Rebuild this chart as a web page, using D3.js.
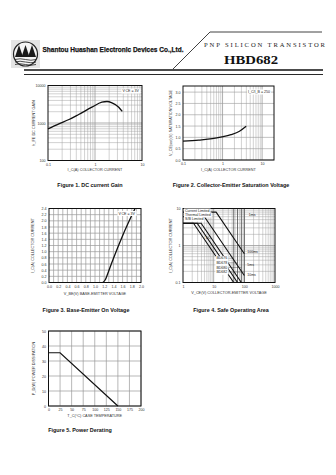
<!DOCTYPE html>
<html><head><meta charset="utf-8">
<script src="https://cdn.jsdelivr.net/npm/d3@7"></script>
<style>body{margin:0;background:#fff}svg{display:block}</style>
</head><body>
<script>
// ---------- DATA ----------
// Figure 1: DC current gain
const fig1Current = [0.1, 0.17, 0.28, 0.45, 0.86, 1.4, 1.8, 2.3, 3.2, 3.8];
const fig1Gain    = [700, 950, 1240, 1690, 2640, 3590, 3740, 3430, 2640, 2030];
const fig1XTicks = [0.1, 1, 10];
const fig1XLabels = ["0.1", "1", "10"];
const fig1YTicks = [100, 1000, 10000];
const fig1YLabels = ["100", "1000", "10000"];
// Figure 2: collector-emitter saturation voltage
const fig2Current = [0.1, 0.25, 0.55, 0.96, 1.63, 2.68, 3.95];
const fig2Vsat    = [0.83, 0.88, 0.94, 1.02, 1.12, 1.27, 1.49];
const fig2XTicks = [0.1, 1, 10];
const fig2XLabels = ["0.1", "1", "10"];
const fig2YTicks = [0, 0.5, 1.0, 1.5, 2.0, 2.5, 3.0];
// Figure 3: base-emitter on voltage
const fig3Vbe = [1.17, 1.22, 1.28, 1.4, 1.6, 1.87];
const fig3Ic  = [0, 0.08, 0.3, 0.78, 1.52, 2.4];
const fig3XTicks = [0, 0.2, 0.4, 0.6, 0.8, 1.0, 1.2, 1.4, 1.6, 1.8, 2.0];
const fig3YTicks = [0, 0.2, 0.4, 0.6, 0.8, 1.0, 1.2, 1.4, 1.6, 1.8, 2.0, 2.2, 2.4];
// Figure 4: safe operating area (V, A)
const soaNames = ["1ms", "100ms", "5ms", "10ms", "DC"];
const soaV = [[1, 12, 100], [1, 5, 100], [1, 3.9, 80], [1, 2.9, 60], [1, 2.2, 45]];
const soaI = [[8, 8, 0.6], [6, 6, 0.155], [4, 4, 0.1], [4, 4, 0.1], [4, 4, 0.1]];
const soaLimitV = [45, 60, 80, 100];
const soaDevices = ["BD676", "BD678", "BD680", "BD682"];
const fig4XTicks = [1, 10, 100, 1000];
const fig4YTicks = [0.1, 1, 10];
// Figure 5: power derating
const fig5Tc = [0, 25, 150];
const fig5Pd = [35.5, 35.5, 0];
const fig5XTicks = [0, 25, 50, 75, 100, 125, 150, 175, 200];
const fig5YTicks = [0, 10, 20, 30, 40, 50];

// ---------- DRAW ----------
const W = 336, H = 475;
const svg = d3.select("body").append("svg").attr("width", W).attr("height", H);
svg.append("rect").attr("width", W).attr("height", H).attr("fill", "#fff");
const FONT = "Liberation Sans, Arial, sans-serif";
const SERIF = "Liberation Serif, Times New Roman, serif";

// Header
const logo = svg.append("g");
logo.append("rect").attr("x", 11).attr("y", 40).attr("width", 29).attr("height", 28).attr("fill", "#e4e4e4");
logo.append("circle").attr("cx", 25.5).attr("cy", 54).attr("r", 12).attr("fill", "#f4f4f4").attr("stroke", "#222").attr("stroke-width", 1.2);
[0, 1, 2].forEach(i => {
  const cx = 19 + i * 6.5;
  logo.append("path").attr("d", `M${cx - 4},57 L${cx},45 L${cx + 4},57 Z`).attr("fill", "#1a1a1a");
});
[59.5, 62, 64.5].forEach(y => logo.append("path").attr("d", `M15,${y} Q20,${y - 1.5} 25.5,${y} T36,${y}`).attr("fill", "none").attr("stroke", "#222").attr("stroke-width", 0.8));
svg.append("text").attr("x", 42.5).attr("y", 52).attr("font-family", FONT).attr("font-weight", "bold")
  .attr("font-size", 7.8).attr("textLength", 141).attr("lengthAdjust", "spacingAndGlyphs").attr("fill", "#111")
  .attr("stroke", "#111").attr("stroke-width", 0.25)
  .text("Shantou Huashan Electronic Devices Co.,Ltd.");
svg.append("path").attr("d", "M173,69 L210,32 L322,32").attr("fill", "none").attr("stroke", "#111").attr("stroke-width", 0.8);
svg.append("text").attr("x", 204).attr("y", 46.5).attr("font-family", SERIF).attr("font-size", 6.6)
  .attr("textLength", 121).attr("lengthAdjust", "spacing").attr("fill", "#222").text("PNP SILICON TRANSISTOR");
svg.append("text").attr("x", 224).attr("y", 64).attr("font-family", SERIF).attr("font-weight", "bold").attr("font-size", 12.5)
  .attr("textLength", 54).attr("lengthAdjust", "spacingAndGlyphs").attr("fill", "#111").text("HBD682");
svg.append("line").attr("x1", 24).attr("x2", 323).attr("y1", 70).attr("y2", 70).attr("stroke", "#111").attr("stroke-width", 1.4);
svg.append("line").attr("x1", 24).attr("x2", 323).attr("y1", 74.5).attr("y2", 74.5).attr("stroke", "#111").attr("stroke-width", 0.9);

const GRID = "#9a9a9a";
function logGrid(g, scale, lo, hi, vertical, y0, y1) {
  for (let e = Math.floor(Math.log10(lo)); e < Math.ceil(Math.log10(hi)); e++) {
    for (let m = 1; m <= 9; m++) {
      const v = m * Math.pow(10, e);
      if (v <= lo * 1.0001 || v >= hi * 0.9999) continue;
      const p = scale(v);
      const ln = g.append("line").attr("stroke", GRID).attr("stroke-width", m === 1 ? 0.8 : 0.45);
      if (vertical) ln.attr("x1", p).attr("x2", p).attr("y1", y0).attr("y2", y1);
      else ln.attr("y1", p).attr("y2", p).attr("x1", y0).attr("x2", y1);
    }
  }
}
function linGrid(g, scale, vals, vertical, a, b, w) {
  vals.forEach(v => {
    const p = scale(v);
    const ln = g.append("line").attr("stroke", GRID).attr("stroke-width", w || 0.5);
    if (vertical) ln.attr("x1", p).attr("x2", p).attr("y1", a).attr("y2", b);
    else ln.attr("y1", p).attr("y2", p).attr("x1", a).attr("x2", b);
  });
}
function frame(g, x0, x1, y0, y1) {
  g.append("rect").attr("x", x0).attr("y", y0).attr("width", x1 - x0).attr("height", y1 - y0)
    .attr("fill", "none").attr("stroke", "#111").attr("stroke-width", 1);
}
function xAxis(g, scale, ticks, labels, y) {
  const ax = d3.axisBottom(scale).tickValues(ticks).tickSize(0).tickPadding(2.5).tickFormat((d, i) => labels[i]);
  const a = g.append("g").attr("transform", `translate(0,${y})`).call(ax);
  a.select(".domain").remove();
  a.selectAll("text").attr("font-size", 3.6).attr("font-family", FONT).attr("fill", "#333");
}
function yAxis(g, scale, ticks, labels, x) {
  const ax = d3.axisLeft(scale).tickValues(ticks).tickSize(0).tickPadding(2.5).tickFormat((d, i) => labels[i]);
  const a = g.append("g").attr("transform", `translate(${x},0)`).call(ax);
  a.select(".domain").remove();
  a.selectAll("text").attr("font-size", 3.6).attr("font-family", FONT).attr("fill", "#333");
}
function title(x, y, txt, rot) {
  const t = svg.append("text").attr("font-family", FONT).attr("font-size", 3.8).attr("fill", "#333")
    .attr("text-anchor", "middle").text(txt);
  if (rot) t.attr("transform", `translate(${x},${y}) rotate(-90)`);
  else t.attr("x", x).attr("y", y);
}
function caption(x, y, txt) {
  svg.append("text").attr("x", x).attr("y", y).attr("font-family", FONT).attr("font-weight", "bold")
    .attr("font-size", 5.4).attr("fill", "#111").attr("text-anchor", "middle").text(txt);
}
function note(g, x, y, txt, anchor) {
  const t = g.append("text").attr("x", x).attr("y", y).attr("font-family", FONT).attr("font-size", 3.6)
    .attr("fill", "#222").attr("text-anchor", anchor || "end").text(txt);
  const bb = t.node().getBBox();
  g.insert("rect", () => t.node()).attr("x", bb.x - 1).attr("y", bb.y - 0.5).attr("width", bb.width + 2)
    .attr("height", bb.height + 1).attr("fill", "#fff");
}
const lineGen = (xs, ys) => d3.line().x(d => xs(d[0])).y(d => ys(d[1])).curve(d3.curveMonotoneX);

// ---- Figure 1 ----
{
  const x0 = 48, x1 = 142, y0 = 85.5, y1 = 160.5;
  const g = svg.append("g");
  const xs = d3.scaleLog().domain([0.1, 10]).range([x0, x1]);
  const ys = d3.scaleLog().domain([100, 10000]).range([y1, y0]);
  logGrid(g, xs, 0.1, 10, true, y0, y1);
  logGrid(g, ys, 100, 10000, false, x0, x1);
  frame(g, x0, x1, y0, y1);
  g.append("path").datum(fig1Current.map((c, i) => [c, fig1Gain[i]]))
    .attr("d", lineGen(xs, ys)).attr("fill", "none").attr("stroke", "#111").attr("stroke-width", 1.3);
  xAxis(g, xs, fig1XTicks, fig1XLabels, y1);
  yAxis(g, ys, fig1YTicks, fig1YLabels, x0);
  note(g, x1 - 3, y0 + 6.5, "V\u2009CE = 3V");
  title((x0 + x1) / 2, 171, "I_C(A) COLLECTOR CURRENT");
  title(35, (y0 + y1) / 2, "h_FE  DC CURRENT GAIN", true);
  caption(90, 187, "Figure 1. DC current Gain");
}
// ---- Figure 2 ----
{
  const x0 = 183, x1 = 274, y0 = 86, y1 = 160;
  const g = svg.append("g");
  const xs = d3.scaleLog().domain([0.1, 20]).range([x0, x1]);
  const ys = d3.scaleLinear().domain([0, 3.27]).range([y1, y0]);
  logGrid(g, xs, 0.1, 20, true, y0, y1);
  linGrid(g, ys, fig2YTicks, false, x0, x1, 0.6);
  frame(g, x0, x1, y0, y1);
  g.append("path").datum(fig2Current.map((c, i) => [c, fig2Vsat[i]]))
    .attr("d", lineGen(xs, ys)).attr("fill", "none").attr("stroke", "#111").attr("stroke-width", 1.3);
  xAxis(g, xs, fig2XTicks, fig2XLabels, y1);
  yAxis(g, ys, fig2YTicks, fig2YTicks.map(d => d.toFixed(1)), x0);
  note(g, x1 - 4, y0 + 7, "I_C/I_B = 250");
  title((x0 + x1) / 2, 171, "I_C(A) COLLECTOR CURRENT");
  title(172, (y0 + y1) / 2, "V_CE(sat)(V) SATURATION VOLTAGE", true);
  caption(231, 187, "Figure 2. Collector-Emitter Saturation Voltage");
}
// ---- Figure 3 ----
{
  const x0 = 49, x1 = 141, y0 = 208.5, y1 = 282.5;
  const g = svg.append("g");
  const xs = d3.scaleLinear().domain([0, 2.0]).range([x0, x1]);
  const ys = d3.scaleLinear().domain([0, 2.4]).range([y1, y0]);
  linGrid(g, xs, d3.range(1, 20).map(i => i * 0.1), true, y0, y1, 0.7);
  linGrid(g, ys, fig3YTicks, false, x0, x1, 0.7);
  frame(g, x0, x1, y0, y1);
  g.append("path").datum(fig3Vbe.map((v, i) => [v, fig3Ic[i]]))
    .attr("d", lineGen(xs, ys)).attr("fill", "none").attr("stroke", "#111").attr("stroke-width", 1.3);
  xAxis(g, xs, fig3XTicks, fig3XTicks.map(d => d.toFixed(1)), y1);
  yAxis(g, ys, fig3YTicks, fig3YTicks.map(d => d.toFixed(1)), x0);
  note(g, x1 - 6, y0 + 6, "V\u2009CE = 3V");
  title((x0 + x1) / 2, 295, "V_BE(V) BASE-EMITTER VOLTAGE");
  title(34, (y0 + y1) / 2, "I_C(A) COLLECTOR CURRENT", true);
  caption(86, 312, "Figure 3. Base-Emitter On Voltage");
}
// ---- Figure 4 ----
{
  const x0 = 183, x1 = 275, y0 = 208.5, y1 = 282.5;
  const g = svg.append("g");
  const xs = d3.scaleLog().domain([1, 1000]).range([x0, x1]);
  const ys = d3.scaleLog().domain([0.1, 10]).range([y1, y0]);
  logGrid(g, xs, 1, 1000, true, y0, y1);
  logGrid(g, ys, 0.1, 10, false, x0, x1);
  soaLimitV.forEach(v => g.append("line").attr("x1", xs(v)).attr("x2", xs(v)).attr("y1", y0).attr("y2", y1)
    .attr("stroke", "#444").attr("stroke-width", 0.7));
  frame(g, x0, x1, y0, y1);
  const lg = d3.line().x(d => xs(d[0])).y(d => ys(d[1]));
  soaV.forEach((vs, k) => {
    g.append("path").datum(vs.map((v, i) => [v, soaI[k][i]])).attr("d", lg)
      .attr("fill", "none").attr("stroke", "#111").attr("stroke-width", 1.1);
  });
  const lab = (txt, v, i, anchor) => g.append("text").attr("x", xs(v)).attr("y", ys(i)).attr("font-family", FONT)
    .attr("font-size", 3.5).attr("fill", "#222").attr("text-anchor", anchor || "start").text(txt);
  lab(soaNames[0], 140, 6.2);
  lab(soaNames[1], 125, 0.62);
  lab(soaNames[2], 125, 0.28);
  lab(soaNames[3], 125, 0.15);
  lab(soaNames[4], 5.5, 1.5);
  note(g, x0 + 2, y0 + 3.5, "Current  Limited", "start");
  note(g, x0 + 2, y0 + 7.5, "Thermal  Limited", "start");
  note(g, x0 + 2, y0 + 11.5, "S/B  Limited", "start");
  soaDevices.forEach((d, i) => {
    const yy = ys(0.42) + i * 4.6;
    g.append("line").attr("x1", xs(28)).attr("x2", xs(soaLimitV[i])).attr("y1", yy - 1.2).attr("y2", yy - 1.2)
      .attr("stroke", "#333").attr("stroke-width", 0.4);
    note(g, xs(28), yy, d, "end");
  });
  xAxis(g, xs, fig4XTicks, ["1", "10", "100", "1000"], y1);
  yAxis(g, ys, fig4YTicks, ["0.1", "1", "10"], x0);
  title((x0 + x1) / 2, 294, "V_CE(V) COLLECTOR-EMITTER VOLTAGE");
  title(172, (y0 + y1) / 2, "I_C(A) COLLECTOR CURRENT", true);
  caption(231, 312, "Figure 4. Safe Operating Area");
}
// ---- Figure 5 ----
{
  const x0 = 48.5, x1 = 141, y0 = 331, y1 = 406;
  const g = svg.append("g");
  const xs = d3.scaleLinear().domain([0, 200]).range([x0, x1]);
  const ys = d3.scaleLinear().domain([0, 50]).range([y1, y0]);
  linGrid(g, xs, fig5XTicks, true, y0, y1, 0.7);
  linGrid(g, ys, fig5YTicks, false, x0, x1, 0.7);
  frame(g, x0, x1, y0, y1);
  g.append("path").datum(fig5Tc.map((t, i) => [t, fig5Pd[i]])).attr("d", d3.line().x(d => xs(d[0])).y(d => ys(d[1])))
    .attr("fill", "none").attr("stroke", "#111").attr("stroke-width", 1.2);
  xAxis(g, xs, fig5XTicks, fig5XTicks.map(String), y1);
  yAxis(g, ys, fig5YTicks, fig5YTicks.map(String), x0);
  title((x0 + x1) / 2, 417, "T_C(\u00B0C) CASE TEMPERATURE");
  title(35, (y0 + y1) / 2, "P_D(W) POWER DISSIPATION", true);
  caption(80, 432, "Figure 5. Power Derating");
}
</script>
</body></html>
